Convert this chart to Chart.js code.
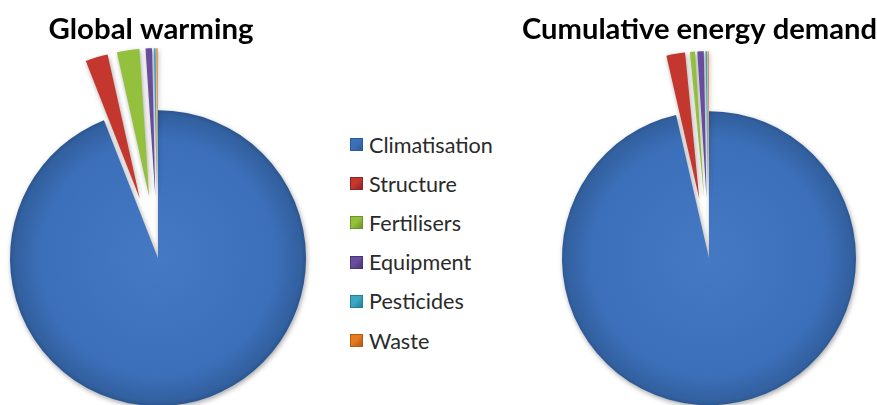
<!DOCTYPE html>
<html>
<head>
<meta charset="utf-8">
<script src="https://cdn.jsdelivr.net/npm/chart.js@4/dist/chart.umd.min.js"></script>
<style>
  html, body { margin: 0; padding: 0; background: #fff; width: 877px; height: 405px; overflow: hidden; }
  #wrap { position: relative; width: 877px; height: 405px; overflow: hidden; }
  canvas { position: absolute; top: 0; }
  #left { left: -12px; }
  #right { left: 522px; }
  #legend { position: absolute; left: 350px; top: 125px; font-family: Lato, "Noto Sans", sans-serif; font-size: 21.6px; color: #2a2a2a; }
  .item { display: flex; align-items: center; height: 39.2px; white-space: nowrap; }
  .box { width: 13px; height: 13px; margin-right: 6px; box-sizing: border-box; }
</style>
</head>
<body>
<div id="wrap">
  <canvas id="left" width="326" height="469"></canvas>
  <div id="legend"></div>
  <canvas id="right" width="355" height="469"></canvas>
</div>
<script>
// ---- data ----
const categories = ["Climatisation", "Structure", "Fertilisers", "Equipment", "Pesticides", "Waste"];
const globalWarming = [94.05, 2.45, 2.45, 0.70, 0.20, 0.15];
const energyDemand = [96.40, 2.05, 0.55, 0.70, 0.18, 0.12];
const titles = ["Global warming", "Cumulative energy demand"];

// ---- styles ----
const palette = ["#3d70ba", "#c4372f", "#93c13d", "#6a4e9e", "#3ba8c6", "#e57c22"];
const paletteDark = ["#2c5a9a", "#8e2320", "#6a9428", "#4a3477", "#23809a", "#b65a10"];

function fillFor(ctx) {
  const i = ctx.dataIndex;
  const chart = ctx.chart;
  const area = chart.chartArea;
  if (!area || i !== 0) return palette[i];
  const shift = (chart.options.plugins.explodeSlices || {}).shiftX || 0;
  const cx = (area.left + area.right) / 2 + shift, cy = (area.top + area.bottom) / 2;
  const g = chart.ctx.createRadialGradient(cx, cy, 0, cx, cy, 148);
  g.addColorStop(0, "#4579c4");
  g.addColorStop(0.8, "#3c6fb9");
  g.addColorStop(0.97, "#32609f");
  g.addColorStop(1, "#2a5590");
  return g;
}

// Excel-style explosion: move every slice except the first outward along its mid angle,
// keeping its radius and angle unchanged; shiftX moves the whole pie off the title's centre.
const explodeSlices = {
  id: "explodeSlices",
  afterDatasetUpdate(chart, args, opts) {
    const d = opts.distance || 0;
    const sx = opts.shiftX || 0;
    args.meta.data.forEach((arc, i) => {
      arc.x += sx;
      if (i === 0 || !d) return;
      const mid = (arc.startAngle + arc.endAngle) / 2;
      arc.x += Math.cos(mid) * d;
      arc.y += Math.sin(mid) * d;
    });
  }
};
const softShadow = {
  id: "softShadow",
  beforeDatasetsDraw(chart) {
    const c = chart.ctx;
    c.save();
    c.shadowColor = "rgba(0,0,0,0.35)";
    c.shadowBlur = 5;
    c.shadowOffsetX = 1;
    c.shadowOffsetY = 2;
  },
  afterDatasetsDraw(chart) { chart.ctx.restore(); }
};

function makePie(id, values, title, explode, shiftX, radius) {
  return new Chart(document.getElementById(id), {
    type: "pie",
    data: {
      labels: categories,
      datasets: [{
        data: values,
        backgroundColor: fillFor,
        borderWidth: 0
      }]
    },
    options: {
      responsive: false,
      animation: false,
      events: [],
      radius: radius,
      layout: { padding: 0 },
      plugins: {
        legend: { display: false },
        tooltip: { enabled: false },
        explodeSlices: { distance: explode, shiftX: shiftX },
        title: {
          display: true,
          text: title,
          color: "#000",
          font: { family: "Lato, 'Noto Sans', sans-serif", size: 29.4, weight: "bold", lineHeight: 1.2 },
          padding: { top: 12, bottom: 0 }
        }
      }
    },
    plugins: [explodeSlices, softShadow]
  });
}

makePie("left", globalWarming, titles[0], 62, 7, 148);
makePie("right", energyDemand, titles[1], 60, 9.5, 147);

// legend built from the category list
const lg = document.getElementById("legend");
categories.forEach((name, i) => {
  const row = document.createElement("div");
  row.className = "item";
  const b = document.createElement("span");
  b.className = "box";
  b.style.background = `linear-gradient(135deg, ${palette[i]} 0%, ${palette[i]} 45%, ${paletteDark[i]} 100%)`;
  b.style.border = `1px solid ${paletteDark[i]}`;
  const t = document.createElement("span");
  t.textContent = name;
  row.appendChild(b);
  row.appendChild(t);
  lg.appendChild(row);
});
</script>
</body>
</html>
